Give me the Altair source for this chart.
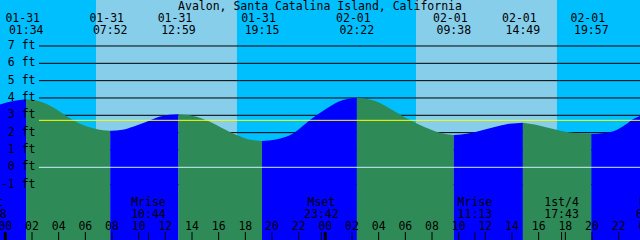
import altair as alt
import pandas as pd

# ---- data (hours counted from 01-31 00:00) ----
title_text = ["Avalon, Santa Catalina Island, California"]

# tide curve readings
tide_hours = [-0.4, 0.6, 1.567, 2.6, 3.6, 4.6, 5.83, 6.8, 7.867,
              8.8, 9.58, 10.5, 11.6, 12.3, 12.983,
              14.0, 15.35, 16.4, 17.35, 18.3, 19.25,
              20.3, 21.58, 22.85, 24.1, 25.33, 26.367,
              27.85, 28.7, 29.6, 30.3, 31.1, 32.6, 33.633,
              34.7, 35.83, 36.7, 37.6, 38.817,
              39.8, 40.85, 41.7, 42.58, 43.95,
              44.9, 45.85, 46.5, 47.07, 47.6]
tide_feet = [3.62, 3.82, 3.92, 3.80, 3.45, 2.95, 2.44, 2.21, 2.11,
             2.17, 2.34, 2.60, 2.93, 3.03, 3.06,
             2.98, 2.63, 2.21, 1.86, 1.60, 1.52,
             1.60, 1.95, 2.73, 3.40, 3.88, 4.02,
             3.79, 3.45, 3.05, 2.75, 2.44, 2.00, 1.86,
             1.95, 2.15, 2.33, 2.48, 2.57,
             2.45, 2.25, 2.10, 2.00, 1.92,
             1.98, 2.15, 2.45, 2.77, 2.96]

# high / low tide events
extreme_hours = [1.567, 7.867, 12.983, 19.25, 26.367, 33.633, 38.817, 43.95]
extreme_dates = ["01-31", "01-31", "01-31", "01-31", "02-01", "02-01", "02-01", "02-01"]
extreme_times = ["01:34", "07:52", "12:59", "19:15", "02:22", "09:38", "14:49", "19:57"]

# daylight
sunrise_hours = [6.8, 30.8]
sunset_hours = [17.37, 41.37]

# moon events
moon_hours = [-1.2, 10.733, 23.7, 35.217, 41.717, 48.6]
moon_names = ["Mset", "Mrise", "Mset", "Mrise", "1st/4", "Mset"]
moon_times = ["22:48", "10:44", "23:42", "11:13", "17:43", "00:36"]

# axis
level_feet = [-1, 0, 1, 2, 3, 4, 5, 6, 7]
level_labels = ["-1 ft", "0 ft", "1 ft", "2 ft", "3 ft", "4 ft", "5 ft", "6 ft", "7 ft"]
hour_ticks = [0, 2, 4, 6, 8, 10, 12, 14, 16, 18, 20, 22,
              24, 26, 28, 30, 32, 34, 36, 38, 40, 42, 44, 46, 48]
hour_labels = ["00", "02", "04", "06", "08", "10", "12", "14", "16", "18", "20", "22",
               "00", "02", "04", "06", "08", "10", "12", "14", "16", "18", "20", "22", "00"]
midnight_hours = [0, 24, 48]
mean_level = [2.71]
datum_level = [0]

# ---- colours ----
NIGHT = "#00BFFF"
DAY = "#87CEEB"
FLOOD = "#0000FF"
EBB = "#2E8B57"
FONT = "DejaVu Sans Mono"
FS = 11.5

# ---- tables ----
bounds = [tide_hours[0]] + extreme_hours + [tide_hours[-1]]
rows = []
for i in range(len(bounds) - 1):
    a, b = bounds[i], bounds[i + 1]
    pts = [(t, h) for t, h in zip(tide_hours, tide_feet) if a - 1e-9 <= t <= b + 1e-9]
    phase = "rise" if pts[-1][1] > pts[0][1] else "fall"
    for t, h in pts:
        rows.append({"t": t, "h": h, "seg": i, "phase": phase})
tide_df = pd.DataFrame(rows)

day_df = pd.DataFrame({"start": sunrise_hours, "end": sunset_hours})
level_df = pd.DataFrame({"ft": level_feet, "label": level_labels})
ext_df = pd.DataFrame({"t": extreme_hours, "date": extreme_dates, "time": extreme_times})
moon_df = pd.DataFrame({"t": moon_hours, "name": moon_names, "time": moon_times})
hour_df = pd.DataFrame({"t": hour_ticks, "label": hour_labels})
mid_df = pd.DataFrame({"t": midnight_hours})
mean_df = pd.DataFrame({"ft": mean_level})
datum_df = pd.DataFrame({"ft": datum_level})
title_df = pd.DataFrame({"title": title_text})

xs = alt.Scale(domain=[-0.4, 47.6], range=[0, 640], nice=False, zero=False)
ys = alt.Scale(domain=[-4.195, 9.654], range=[240, 0], nice=False, zero=False)

def X(f):
    return alt.X(f, scale=xs, axis=None)

def Y(f):
    return alt.Y(f, scale=ys, axis=None, stack=None)

day = alt.Chart(day_df).mark_rect(color=DAY).encode(
    x=X("start:Q"), x2="end:Q", y=alt.value(0), y2=alt.value(240))

grid = alt.Chart(level_df).mark_rule(color="black", strokeWidth=1).encode(
    y=Y("ft:Q"), x=alt.value(39), x2=alt.value(640))

water = alt.Chart(tide_df).mark_area(interpolate="monotone").encode(
    x=X("t:Q"), y=Y("h:Q"), y2=alt.value(240),
    color=alt.Color("phase:N", scale=alt.Scale(domain=["rise", "fall"], range=[FLOOD, EBB]), legend=None),
    detail="seg:N")

datum = alt.Chart(datum_df).mark_rule(color="#CFEFFF", strokeWidth=1).encode(
    y=Y("ft:Q"), x=alt.value(39), x2=alt.value(640))
mean = alt.Chart(mean_df).mark_rule(color="#FFFF00", strokeWidth=1).encode(
    y=Y("ft:Q"), x=alt.value(39), x2=alt.value(640))

ylab = alt.Chart(level_df).mark_text(font=FONT, fontSize=FS, align="right", baseline="middle", color="black").encode(
    y=Y("ft:Q"), x=alt.value(35.5), text="label:N")

title = alt.Chart(title_df).mark_text(font=FONT, fontSize=FS, align="center", baseline="alphabetic", color="black").encode(
    x=alt.value(320), y=alt.value(9.5), text="title:N")

ext_date = alt.Chart(ext_df).mark_text(font=FONT, fontSize=FS, align="center", baseline="alphabetic", dx=-3.5, color="black").encode(
    x=X("t:Q"), y=alt.value(21.8), text="date:N")
ext_time = alt.Chart(ext_df).mark_text(font=FONT, fontSize=FS, align="center", baseline="alphabetic", color="black").encode(
    x=X("t:Q"), y=alt.value(33.8), text="time:N")

moon_name = alt.Chart(moon_df).mark_text(font=FONT, fontSize=FS, align="center", baseline="alphabetic", color="black").encode(
    x=X("t:Q"), y=alt.value(206), text="name:N")
moon_time = alt.Chart(moon_df).mark_text(font=FONT, fontSize=FS, align="center", baseline="alphabetic", color="black").encode(
    x=X("t:Q"), y=alt.value(217.5), text="time:N")
moon_tick = alt.Chart(moon_df).mark_rule(color="black", strokeWidth=1).encode(
    x=X("t:Q"), y=alt.value(232), y2=alt.value(240))

hour_text = alt.Chart(hour_df).mark_text(font=FONT, fontSize=FS, align="center", baseline="alphabetic", color="black").encode(
    x=X("t:Q"), y=alt.value(229.5), text="label:N")
hour_tick = alt.Chart(hour_df).mark_rule(color="black", strokeWidth=1).encode(
    x=X("t:Q"), y=alt.value(232), y2=alt.value(240))
mid_tick = alt.Chart(mid_df).mark_rule(color="black", strokeWidth=3).encode(
    x=X("t:Q"), y=alt.value(232), y2=alt.value(240))

chart = alt.layer(
    day, grid, water, datum, mean, ylab, title, ext_date, ext_time,
    moon_name, moon_time, moon_tick, hour_text, hour_tick, mid_tick
).properties(
    width=640, height=240, background=NIGHT, padding=0,
    autosize=alt.AutoSizeParams(type="none")
).configure_view(strokeWidth=0)

chart.save("out.html", embed_options={"renderer": "svg", "actions": False})
